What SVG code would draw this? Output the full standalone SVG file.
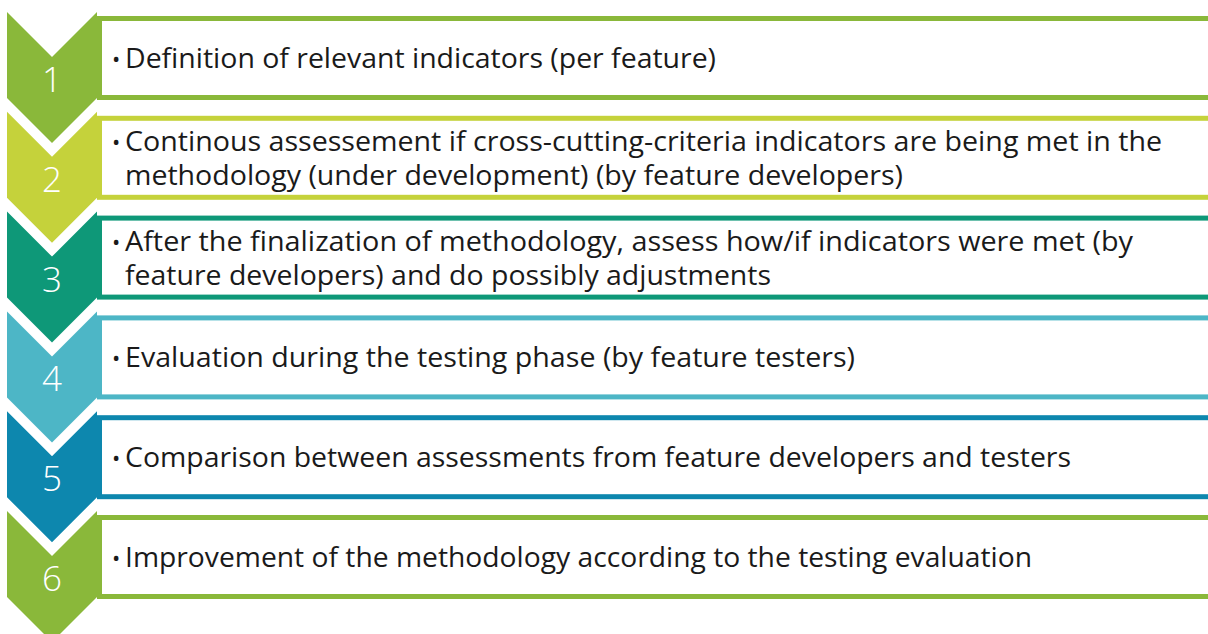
<svg xmlns="http://www.w3.org/2000/svg" width="1208" height="634" viewBox="0 0 1208 634">
<style>
.box{fill:#ffffff;stroke-width:5}
.num{font-family:"Open Sans","DejaVu Sans",sans-serif;font-weight:300;font-size:35px;fill:#ffffff;text-anchor:middle}
.txt{font-family:"Open Sans","DejaVu Sans",sans-serif;font-size:26.5px;fill:#1a1a1a}
.bul{font-family:"Open Sans","DejaVu Sans",sans-serif;font-size:22px;fill:#1a1a1a}
.c1{fill:#8ab83a}
.c2{fill:#c5d23b}
.c3{fill:#0e9878}
.c4{fill:#4db6c6}
.c5{fill:#0d87ae}
</style>
<rect width="1208" height="634" fill="#ffffff"/>
<g id="step1">
<rect class="box" x="99.5" y="18.5" width="1120" height="79" stroke="#8ab83a"/>
<polygon class="c1" points="7,12 52,57 97,12 97,98 52,143 7,98"/>
<text class="num" x="52" y="92">1</text>
<text class="bul" x="112" y="67">•</text>
<text class="txt" x="125" y="68" textLength="591" lengthAdjust="spacingAndGlyphs">Definition of relevant indicators (per feature)</text>
</g>
<g id="step2">
<rect class="box" x="99.5" y="118.3" width="1120" height="79" stroke="#c5d23b"/>
<polygon class="c2" points="7,111.8 52,156.8 97,111.8 97,197.8 52,242.8 7,197.8"/>
<text class="num" x="52" y="191.8">2</text>
<text class="bul" x="112" y="150">•</text>
<text class="txt" x="125" y="151" textLength="1037" lengthAdjust="spacingAndGlyphs">Continous assessement if cross-cutting-criteria indicators are being met in the</text>
<text class="txt" x="125" y="185" textLength="778" lengthAdjust="spacingAndGlyphs">methodology (under development) (by feature developers)</text>
</g>
<g id="step3">
<rect class="box" x="99.5" y="218.1" width="1120" height="79" stroke="#0e9878"/>
<polygon class="c3" points="7,211.6 52,256.6 97,211.6 97,297.6 52,342.6 7,297.6"/>
<text class="num" x="52" y="291.6">3</text>
<text class="bul" x="112" y="250">•</text>
<text class="txt" x="125" y="251" textLength="1008" lengthAdjust="spacingAndGlyphs">After the finalization of methodology, assess how/if indicators were met (by</text>
<text class="txt" x="125" y="285" textLength="646" lengthAdjust="spacingAndGlyphs">feature developers) and do possibly adjustments</text>
</g>
<g id="step4">
<rect class="box" x="99.5" y="317.9" width="1120" height="79" stroke="#4db6c6"/>
<polygon class="c4" points="7,311.4 52,356.4 97,311.4 97,397.4 52,442.4 7,397.4"/>
<text class="num" x="52" y="391.4">4</text>
<text class="bul" x="112" y="366">•</text>
<text class="txt" x="125" y="367" textLength="730" lengthAdjust="spacingAndGlyphs">Evaluation during the testing phase (by feature testers)</text>
</g>
<g id="step5">
<rect class="box" x="99.5" y="417.7" width="1120" height="79" stroke="#0d87ae"/>
<polygon class="c5" points="7,411.2 52,456.2 97,411.2 97,497.2 52,542.2 7,497.2"/>
<text class="num" x="52" y="491.2">5</text>
<text class="bul" x="112" y="466">•</text>
<text class="txt" x="125" y="467" textLength="946" lengthAdjust="spacingAndGlyphs">Comparison between assessments from feature developers and testers</text>
</g>
<g id="step6">
<rect class="box" x="99.5" y="517.5" width="1120" height="79" stroke="#8ab83a"/>
<polygon class="c1" points="7,511 52,556 97,511 97,597 52,642 7,597"/>
<text class="num" x="52" y="591">6</text>
<text class="bul" x="112" y="566">•</text>
<text class="txt" x="125" y="567" textLength="907" lengthAdjust="spacingAndGlyphs">Improvement of the methodology according to the testing evaluation</text>
</g>
<g id="connectors"></g>
</svg>
